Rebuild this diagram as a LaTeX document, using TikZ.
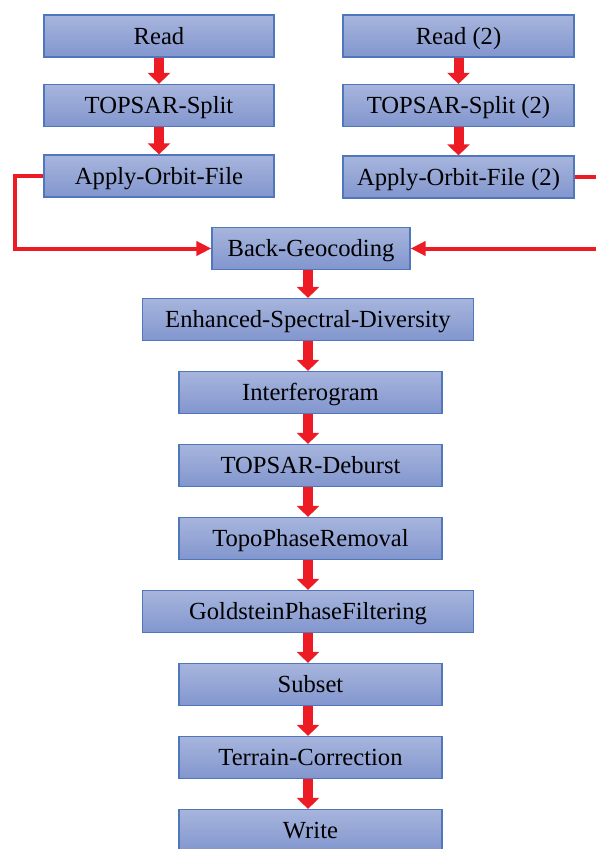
\documentclass[tikz,border=0pt]{standalone}
\usepackage{fontspec}
\setmainfont{Liberation Serif}
\usetikzlibrary{arrows.meta}
\definecolor{boxtop}{RGB}{167,181,221}
\definecolor{boxbot}{RGB}{130,150,206}
\definecolor{boxline}{RGB}{80,118,188}
\definecolor{flowred}{RGB}{237,28,36}
\begin{document}
\begin{tikzpicture}[x=1pt,y=-1pt,
    proc/.style={draw=boxline,line width=1.2pt,top color=boxtop,bottom color=boxbot,
      minimum height=42pt,inner sep=0pt,text height=20pt,text depth=4pt,
      font=\fontsize{24.6}{28}\selectfont},
    flow/.style={draw=flowred,line width=10pt,-{Triangle[width=22pt,length=11pt]}},
    link/.style={draw=flowred,line width=4pt,-{Triangle[width=14pt,length=15pt]}}]
      \useasboundingbox (0,0) rectangle (595,849);
      \draw
        (159,36) node[proc,minimum width=230pt] (r1){Read}
        (159,105.5) node[proc,minimum width=230pt] (s1){TOPSAR-Split}
        (159,176) node[proc,minimum width=230pt] (o1){Apply-Orbit-File}
        (458.5,36) node[proc,minimum width=231pt] (r2){Read (2)}
        (458.5,105.5) node[proc,minimum width=231pt] (s2){TOPSAR-Split (2)}
        (458.5,177) node[proc,minimum width=231pt] (o2){Apply-Orbit-File (2)}
        (311,248.5) node[proc,minimum width=198pt] (bg){Back-Geocoding}
        (308,319.5) node[proc,minimum width=331pt] (esd){Enhanced-Spectral-Diversity}
        (310.5,392.5) node[proc,minimum width=263pt] (ifg){Interferogram}
        (310.5,465.5) node[proc,minimum width=263pt] (deb){TOPSAR-Deburst}
        (310.5,538.5) node[proc,minimum width=263pt] (tpr){TopoPhaseRemoval}
        (308,611.5) node[proc,minimum width=331pt] (gpf){GoldsteinPhaseFiltering}
        (310.5,684.5) node[proc,minimum width=263pt] (sub){Subset}
        (310.5,757.5) node[proc,minimum width=263pt] (tc){Terrain-Correction}
        (310.5,830.5) node[proc,minimum width=263pt] (wr){Write};
      \coordinate (lturn) at (15,176);
      \coordinate (rturn) at (599,177);
      \begin{scope}[flow]
        \draw (r1) to (s1);
        \draw (s1) to (o1);
        \draw (r2) to (s2);
        \draw (s2) to (o2);
        \draw (bg.south -| 308,0) to (esd.north -| 308,0);
        \draw (esd.south -| 308,0) to (ifg.north -| 308,0);
        \draw (ifg.south -| 308,0) to (deb.north -| 308,0);
        \draw (deb.south -| 308,0) to (tpr.north -| 308,0);
        \draw (tpr.south -| 308,0) to (gpf.north -| 308,0);
        \draw (gpf.south -| 308,0) to (sub.north -| 308,0);
        \draw (sub.south -| 308,0) to (tc.north -| 308,0);
        \draw (tc.south -| 308,0) to (wr.north -| 308,0);
      \end{scope}
      \draw[link] (o1.west) -- (lturn) |- (bg.west);
      \draw[link] (o2.east) -- (rturn) |- (bg.east);
    \end{tikzpicture}
\end{document}
